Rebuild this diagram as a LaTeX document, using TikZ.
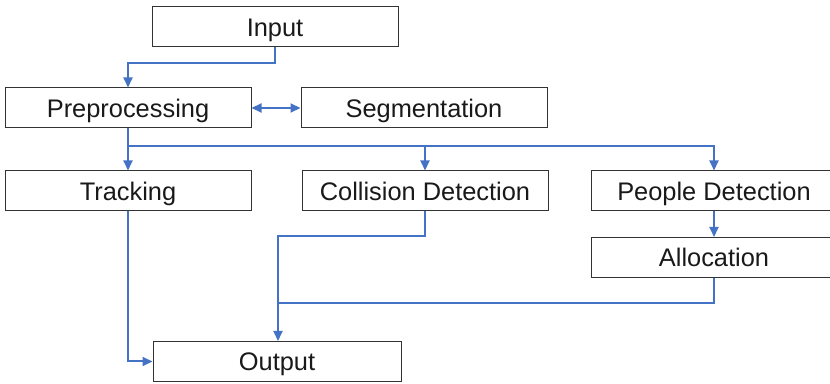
\documentclass[tikz,border=0pt]{standalone}
\usepackage{fontspec}
\setmainfont{Liberation Sans}
\usetikzlibrary{arrows.meta}
\definecolor{linkblue}{RGB}{68,114,196}
\tikzset{
  box/.style={draw=black!80, line width=0.5pt, minimum width=123pt, minimum height=20pt,
    inner sep=0pt, text height=9.1pt, text depth=0pt, text=black!90,
    font=\fontsize{12.7}{15}\selectfont},
  link/.style={draw=linkblue, line width=1pt, -{Triangle[length=5pt,width=4.5pt]}},
}

\begin{document}
\begin{tikzpicture}[x=0.5pt, y=-0.5pt]
	\clip (0,0) rectangle (830,384);
	% boxes
	\node[box] (inp) at (275,27) {Input};
	\node[box] (pre) at (128,108) {Preprocessing};
	\node[box] (seg) at (424,108) {Segmentation};
	\node[box] (trk) at (128,191) {Tracking};
	\node[box] (col) at (425,191) {Collision Detection};
	\node[box] (ppl) at (714,191) {People Detection};
	\node[box] (alc) at (714,257.5) {Allocation};
	\node[box, minimum width=124pt] (out) at (277,361.5) {Output};
	\coordinate (br) at (128,146);
	\coordinate (jn) at (278,303);

	% connectors
	\draw[link] (inp.south) -- ++(0,16) -| (pre.north);
	\draw[link, {Triangle[length=5pt,width=4.5pt]}-{Triangle[length=5pt,width=4.5pt]}] (pre.east) -- (seg.west);
	\draw[link] (pre.south) -- (trk.north);
	\draw[link] (br) -| (col.north);
	\draw[link] (br) -| (ppl.north);
	\draw[link] (ppl.south) -- (alc.north);
	\draw[link] (trk.south) |- (out.west);
	\draw[link] (col.south) -- ++(0,25) -| (jn) -- (jn |- out.north);
	\draw[link, -] (alc.south) |- (jn);
\end{tikzpicture}
\end{document}
